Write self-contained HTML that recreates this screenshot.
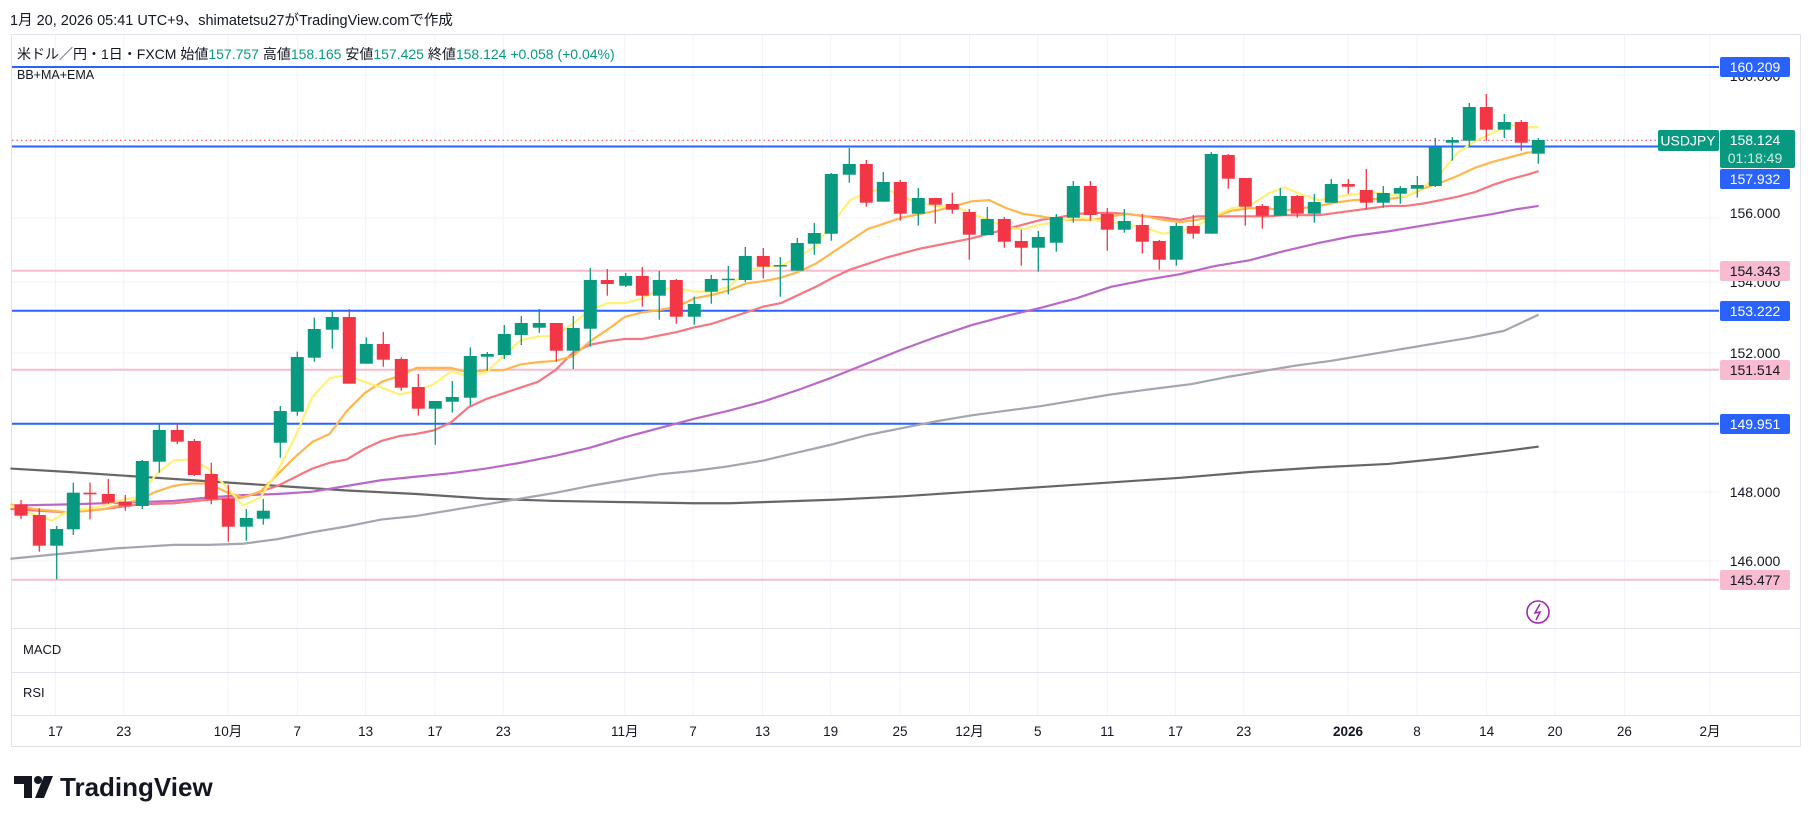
<!DOCTYPE html>
<html><head><meta charset="utf-8">
<style>
html,body{margin:0;padding:0;background:#fff;width:1814px;height:824px;overflow:hidden}
svg{display:block}
text{font-family:"Liberation Sans","Noto Sans CJK JP",sans-serif}
</style></head>
<body>
<svg id="s" width="1814" height="824" viewBox="0 0 1814 824" xmlns="http://www.w3.org/2000/svg">
<rect width="1814" height="824" fill="#fff"/>
<text x="10" y="25" font-size="14.5" fill="#131722">1月 20, 2026 05:41 UTC+9、shimatetsu27がTradingView.comで作成</text>
<!-- frame -->
<rect x="11.5" y="34.5" width="1789" height="712" fill="none" stroke="#e0e3eb"/>
<g id="grid" stroke="#f0f3fa" stroke-width="1"></g>
<!-- hlines -->
<g stroke-width="2">
<line x1="12" x2="1719" y1="67" y2="67" stroke="#2962ff"/>
<line x1="12" x2="1658" y1="146.5" y2="146.5" stroke="#2962ff"/>
<line x1="12" x2="1719" y1="310.7" y2="310.7" stroke="#2962ff"/>
<line x1="12" x2="1719" y1="423.7" y2="423.7" stroke="#2962ff"/>
<line x1="12" x2="1719" y1="270.7" y2="270.7" stroke="#f8bbd0"/>
<line x1="12" x2="1719" y1="369.7" y2="369.7" stroke="#f8bbd0"/>
<line x1="12" x2="1719" y1="579.7" y2="579.7" stroke="#f8bbd0"/>
</g>
<line x1="12" x2="1658" y1="140.3" y2="140.3" stroke="#f23645" stroke-width="1" stroke-dasharray="1.5,3"/>
<!-- MA lines in display coords -->
<g transform="scale(1.15689)" fill="none" stroke-width="1.9" stroke-linejoin="round">
<polyline stroke="#555" opacity="0.9" points="9,405 60,408 120,412 180,416 240,420 300,424 360,427 420,431 480,433 540,434 600,435 630,435 660,434 720,432 780,429 840,425 900,421 960,417 1020,413 1080,408 1140,404 1200,401 1250,396 1300,390 1330,386"/>
<polyline stroke="#a3a6ae" points="9,483 60,478 100,474 150,471 180,471 210,470 240,466 270,460 300,455 330,449 360,446 390,441 420,436 450,431 480,426 510,420 540,415 570,410 600,407 630,403 660,398 690,391 720,384 750,376 780,370 810,364 840,359 870,355 900,351 930,346 960,341 990,337 1030,332 1060,326 1090,321 1120,316 1150,312 1180,307 1210,302 1240,297 1270,292 1300,286 1330,272"/>
<polyline stroke="#ba68c8" points="9,437 60,436 120,434 150,433 180,430 210,428 240,427 270,425 300,420 330,415 360,412 390,409 420,405 450,400 480,394 510,387 540,378 570,370 600,362 630,355 660,347 690,337 720,326 750,314 780,302 810,291 840,281 870,273 900,266 930,258 960,248 990,242 1020,237 1050,230 1080,225 1110,217 1140,210 1170,204 1200,200 1230,195 1260,190 1290,185 1310,181 1330,178"/>
<polyline stroke="#f7767f" points="9,440 60,443 90,440 120,436 150,435 180,432 210,430 240,420 270,405 285,400 300,397 315,388 330,381 345,377 360,375 375,372 390,365 405,352 420,345 435,340 450,335 465,330 480,320 495,305 510,298 525,295 540,293 555,293 570,290 585,287 600,283 615,280 630,275 645,270 660,265 675,262 690,255 705,248 720,240 735,233 750,228 765,223 780,219 795,215 810,212 825,209 840,206 855,202 870,198 885,194 900,190 915,188 930,185 945,184 960,184 975,185 990,187 1005,188 1020,190 1035,187 1050,187 1065,187 1080,187 1095,187 1110,186 1125,186 1140,186 1155,184 1170,182 1185,180 1200,178 1215,178 1230,176 1245,173 1260,170 1275,166 1290,160 1305,155 1320,151 1330,148"/>
<polyline stroke="#ffb74d" points="9,436 30,440 60,443 90,440 120,432 135,425 150,420 165,418 180,418 195,425 210,430 225,425 240,410 255,395 270,382 285,375 300,355 315,340 330,330 345,325 360,318 375,318 390,318 405,322 420,320 435,320 450,315 465,313 480,312 495,308 510,295 525,285 540,274 555,270 570,268 585,265 600,258 615,255 630,251 645,245 660,243 675,240 690,235 705,228 720,218 735,208 750,198 765,193 780,188 795,185 810,182 825,178 840,174 855,173 870,180 885,185 900,187 915,190 930,190 945,190 960,187 975,185 990,187 1005,190 1020,192 1035,190 1050,187 1065,182 1080,180 1095,180 1110,182 1125,180 1140,178 1155,175 1170,173 1185,172 1200,172 1215,170 1230,163 1245,158 1260,152 1275,145 1290,140 1305,136 1320,132 1330,131"/>
<polyline stroke="#fff176" points="9,437 30,445 45,450 60,441 75,440 90,437 105,432 120,430 135,410 150,398 165,397 180,405 195,420 210,437 225,430 240,407 255,378 270,343 285,327 300,324 315,330 330,335 345,341 360,338 375,332 390,321 405,325 420,322 435,308 450,294 465,291 480,290 495,280 510,268 525,262 540,262 555,258 570,250 585,249 600,252 615,252 630,248 645,235 660,230 675,230 690,222 705,213 720,192 735,173 750,166 765,163 780,170 795,176 810,178 825,178 840,185 855,190 870,197 885,198 900,194 915,192 930,187 945,190 960,192 975,194 990,197 1005,202 1020,200 1035,195 1050,186 1065,180 1080,178 1095,168 1110,162 1125,168 1140,173 1155,170 1170,168 1185,166 1200,168 1215,170 1230,162 1245,150 1260,132 1275,122 1290,115 1305,108 1320,110 1330,110"/>
</g>
<g id="c"></g>
<!-- lightning -->
<circle cx="1538" cy="612" r="11" fill="#fff" stroke="#9c27b0" stroke-width="1.6"/>
<path d="M1540,604 L1535,613 L1540,612 L1536,620" fill="none" stroke="#9c27b0" stroke-width="1.5"/>
<!-- panes -->
<line x1="12" x2="1800" y1="628.5" y2="628.5" stroke="#e0e3eb"/>
<line x1="12" x2="1800" y1="672.5" y2="672.5" stroke="#e0e3eb"/>
<line x1="12" x2="1800" y1="715.5" y2="715.5" stroke="#e0e3eb"/>
<text x="23" y="654" font-size="13" fill="#131722">MACD</text>
<text x="23" y="697" font-size="13" fill="#131722">RSI</text>
<g id="t" font-size="13.5" fill="#131722" text-anchor="middle"></g>
<!-- legend -->
<text x="17" y="59" font-size="14" fill="#131722">米ドル／円・1日・FXCM  始値<tspan fill="#089981">157.757</tspan>  高値<tspan fill="#089981">158.165</tspan>  安値<tspan fill="#089981">157.425</tspan>  終値<tspan fill="#089981">158.124  +0.058 (+0.04%)</tspan></text>
<text x="17" y="79" font-size="12.5" fill="#131722">BB+MA+EMA</text>
<!-- price axis -->
<g font-size="14" fill="#131722" text-anchor="middle">
<text x="1755" y="218">156.000</text>
<text x="1755" y="287">154.000</text>
<text x="1755" y="358">152.000</text>
<text x="1755" y="497">148.000</text>
<text x="1755" y="566">146.000</text>
<text x="1755" y="81">160.000</text>
</g>
<g font-size="14" text-anchor="middle">
<rect x="1720" y="57" width="70" height="20" rx="2" fill="#2962ff"/><text x="1755" y="72" fill="#fff">160.209</text>
<rect x="1658" y="130" width="61" height="21" rx="2" fill="#089981"/><text x="1688" y="145.5" fill="#fff">USDJPY</text>
<rect x="1720" y="130" width="75" height="38" rx="2" fill="#089981"/><text x="1755" y="145" fill="#fff">158.124</text><text x="1755" y="163" fill="#c8ece4">01:18:49</text>
<rect x="1720" y="169" width="70" height="20" rx="2" fill="#2962ff"/><text x="1755" y="184" fill="#fff">157.932</text>
<rect x="1720" y="261" width="70" height="20" rx="2" fill="#f8bbd0"/><text x="1755" y="276" fill="#131722">154.343</text>
<rect x="1720" y="301" width="70" height="20" rx="2" fill="#2962ff"/><text x="1755" y="316" fill="#fff">153.222</text>
<rect x="1720" y="360" width="70" height="20" rx="2" fill="#f8bbd0"/><text x="1755" y="375" fill="#131722">151.514</text>
<rect x="1720" y="414" width="70" height="20" rx="2" fill="#2962ff"/><text x="1755" y="429" fill="#fff">149.951</text>
<rect x="1720" y="570" width="70" height="20" rx="2" fill="#f8bbd0"/><text x="1755" y="585" fill="#131722">145.477</text>
</g>
<!-- logo -->
<g fill="#131722">
<path d="M14,776 H32 V798 H24 V784 H14 Z"/>
<circle cx="38" cy="780" r="4"/>
<path d="M44,776 H53 L44,798 H35 Z"/>
</g>
<text x="60" y="796" font-size="26" font-weight="bold" fill="#131722">TradingView</text>
</svg>
<script>
var NS="http://www.w3.org/2000/svg";
function el(n,a,p){var e=document.createElementNS(NS,n);for(var k in a)e.setAttribute(k,a[k]);p.appendChild(e);return e;}
var g=document.getElementById('grid');
[218,282,353,492,561,75].forEach(function(y){el('line',{x1:12,x2:1719,y1:y,y2:y},g);});
var T=[[55.5,"17"],[123.8,"23"],[228,"10月"],[297.3,"7"],[365.6,"13"],[435,"17"],[503.3,"23"],[624.8,"11月"],[693,"7"],[762.5,"13"],[830.7,"19"],[900,"25"],[969.5,"12月"],[1037.8,"5"],[1107.3,"11"],[1175.5,"17"],[1243.8,"23"],[1348,"2026"],[1417,"8"],[1486.7,"14"],[1555,"20"],[1624.4,"26"],[1710,"2月"]];
var tg=document.getElementById('t');
T.forEach(function(t){el('line',{x1:t[0],x2:t[0],y1:35,y2:715},g);var e=el('text',{x:t[0],y:736},tg);e.textContent=t[1];if(t[1]=="2026")e.setAttribute('font-weight','bold');});
var D=[[21,504.3,515.7,500,519,0],[39.3,515,545.7,508.3,551.7,0],[56.7,529,545.7,526,579.3,1],[73.3,492.7,529.3,482.7,535,1],[90,492.7,494.3,482.7,519.3,0],[108.3,494,502.7,479,504,0],[125.3,501.7,505.7,495,510.7,0],[142.3,461,506,460,509,1],[159.3,430,461.7,424,472.7,1],[177.3,430,441.7,424,444,0],[194.3,441,475,439,476,0],[211.3,474,499.3,462.7,504.3,0],[228.3,498.7,526.7,484.7,541.7,0],[246.3,518,526.7,509,540.7,1],[263.3,510.7,518.7,499,524.7,1],[280.3,411,442.7,406,457.7,1],[297.3,357,411.7,351.7,415.7,1],[314.3,329,357.7,317.7,361.7,1],[332.3,317,329.7,310,348.7,1],[349.3,317,383.7,309,383.7,0],[366.3,344,363.7,337.3,363.7,1],[383.3,344,359.7,332,366.7,0],[401.3,359,387.7,357.3,390.7,0],[418.3,387,408.7,374,415.7,0],[435.3,401,408.7,401,444.7,1],[452.3,397,401.7,381,412.7,1],[470.3,356,397.7,347.3,405.7,1],[487.3,354,356.7,352,370.7,1],[504.3,334,355,325,359,1],[521.3,323,335,316,345,1],[539.3,323,327.7,309,332.7,1],[556.3,323,350.7,323,361.7,0],[573.3,328,350.7,316,369,1],[590.3,280,328.7,268,346.7,1],[607.3,280,284,269,295.7,0],[625.7,276,285.7,273,287,1],[642.3,276,295.7,267,306.7,0],[659.3,280,295.7,271,319.7,1],[676.3,280,316.7,279,323.7,0],[694.3,304,316.7,296.7,324.7,1],[711.3,279,291.7,275,303.7,1],[728.3,278.7,279.7,266,294.3,1],[745.3,256,280,247,282,1],[763.3,256,266.7,248,278.3,0],[780.3,265,266,257,296.7,1],[797.3,243,270.7,238,270.7,1],[814.3,233,243.7,223,254.7,1],[831.3,174,233.7,173,240.7,1],[849.3,164,174.7,148,182.7,1],[866.3,164,202.7,160,206.7,0],[883.3,182,201.7,172,201.7,1],[900.3,182,213.7,180,220.7,0],[918.3,198,213.7,188,225.7,1],[935.3,198,204.7,198,223.7,0],[952.3,204,209.7,192.7,213.7,0],[969.3,212,234.7,209,259.7,0],[987.3,219,235,207,235,1],[1004.3,219,241.7,217,247.7,0],[1021.3,241,247.7,229.7,265.7,0],[1038.3,237,247.7,231,271.7,1],[1056.3,217,242.7,214,251.7,1],[1073.3,186,217.7,181,222.7,1],[1090.3,186,215,181,220.7,0],[1107.3,214,229.7,208,250.7,0],[1124.3,221,229.7,209,232.7,1],[1142.3,225,241.7,214,253.7,0],[1159.3,241,259.7,240,269.7,0],[1176.3,226,259.7,223,265.7,1],[1193.3,226,233.7,215,238.7,0],[1211.3,154,233.7,152,233.7,1],[1228.3,155,178.7,154,188.7,0],[1245.3,178,206.7,178,225.7,0],[1262.3,206,215.7,204,228.7,0],[1280.3,196,215.7,188,215.7,1],[1297.3,196,213.7,195,217.7,0],[1314.3,202,213.7,194,222.7,1],[1331.3,184,202.7,179,202.7,1],[1348.3,184,186.7,179,193.7,0],[1366.3,190,202.7,169,209.3,0],[1383.3,193,202.7,186,207.7,1],[1400.3,188,193.7,186,203.7,1],[1417.3,185,188.7,176,197.7,1],[1435.3,147,186,138,187,1],[1452.3,140,142.7,137,160.7,1],[1469.3,107,140.7,103,146.7,1],[1486.3,107,129.7,94,140.7,0],[1504.3,122,129.7,114,138,1],[1521.3,122,142.7,120,150.7,0],[1538.3,140,153.7,138,163.7,1]];
var cg=document.getElementById('c');
D.forEach(function(d){var col=d[5]?"#089981":"#f23645";
el('line',{x1:d[0],x2:d[0],y1:d[3],y2:d[4],stroke:col,'stroke-width':1.3},cg);
var h=Math.max(d[2]-d[1],1.5);
el('rect',{x:d[0]-6.5,y:d[1],width:13,height:h,fill:col},cg);});
</script>
</body></html>
